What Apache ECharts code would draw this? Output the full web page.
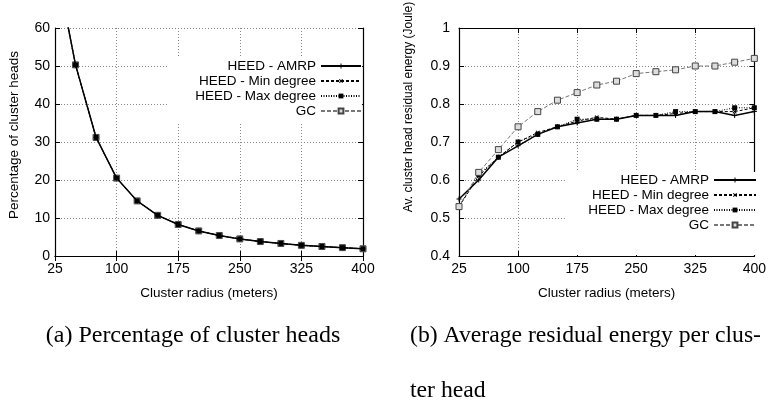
<!DOCTYPE html>
<html>
<head>
<meta charset="utf-8">
<script src="https://cdn.jsdelivr.net/npm/echarts@6/dist/echarts.min.js"></script>
<style>
html,body{margin:0;padding:0;background:#fff;}
#chart{width:769px;height:400px;}
</style>
</head>
<body>
<div id="chart"></div>
<script>
// ---- data ----
const radius = [25, 50, 75, 100, 125, 150, 175, 200, 225, 250, 275, 300, 325, 350, 375, 400];
const seriesNames = ['HEED - AMRP', 'HEED - Min degree', 'HEED - Max degree', 'GC'];
// (a) percentage of cluster heads (all four protocols coincide)
const pctAmrp = [78, 50.3, 31.2, 20.5, 14.5, 10.7, 8.3, 6.6, 5.4, 4.5, 3.8, 3.3, 2.8, 2.5, 2.2, 1.9];
const pctMin  = [78, 50.3, 31.2, 20.5, 14.5, 10.7, 8.3, 6.6, 5.4, 4.5, 3.8, 3.3, 2.8, 2.5, 2.2, 1.9];
const pctMax  = [78, 50.3, 31.2, 20.5, 14.5, 10.7, 8.3, 6.6, 5.4, 4.5, 3.8, 3.3, 2.8, 2.5, 2.2, 1.9];
const pctGc   = [78, 50.3, 31.2, 20.5, 14.5, 10.7, 8.3, 6.6, 5.4, 4.5, 3.8, 3.3, 2.8, 2.5, 2.2, 1.9];
// (b) average cluster head residual energy (Joule)
const energyAmrp = [0.55, 0.60, 0.66, 0.69, 0.72, 0.74, 0.75, 0.76, 0.76, 0.77, 0.77, 0.77, 0.78, 0.78, 0.77, 0.78];
const energyMin  = [0.53, 0.61, 0.66, 0.70, 0.725, 0.74, 0.755, 0.765, 0.76, 0.77, 0.77, 0.775, 0.78, 0.78, 0.78, 0.79];
const energyMax  = [0.53, 0.615, 0.66, 0.70, 0.72, 0.74, 0.76, 0.76, 0.76, 0.77, 0.77, 0.78, 0.78, 0.78, 0.79, 0.79];
const energyGc   = [0.53, 0.62, 0.68, 0.74, 0.78, 0.81, 0.83, 0.85, 0.86, 0.88, 0.885, 0.89, 0.90, 0.90, 0.91, 0.92];
// axis ticks
const xTicks = {min: 25, max: 400, step: 75};
const yTicksA = {min: 0, max: 60, step: 10};
const yTicksB = {min: 0.4, max: 1, step: 0.1};
// texts
const xTitle = 'Cluster radius (meters)';
const yTitleA = 'Percentage of cluster heads';
const yTitleB = 'Av. cluster head residual energy (Joule)';
const captionA = '(a) Percentage of cluster heads';
const captionB1 = '(b) Average residual energy per clus-';
const captionB2 = 'ter head';

// ---- styles ----
const SANS = 'Liberation Sans, Arial, Helvetica, sans-serif';
const SERIF = 'Liberation Serif, Times New Roman, serif';
const plusPath = 'path://M4,0H6V4H10V6H6V10H4V6H0V4H4Z';
const styles = [
  {color: '#000', width: 1.5, type: 'solid', symbol: plusPath, size: 5, rotate: 0, item: {color: '#000'}},
  {color: '#000', width: 1, type: [3, 2], symbol: plusPath, size: 5, rotate: 45, item: {color: '#000'}},
  {color: '#000', width: 1, type: [1, 1.5], symbol: 'rect', size: 5, rotate: 0, item: {color: '#000'}},
  {color: '#777', width: 1, type: [4, 2], symbol: 'rect', size: 6, rotate: 0, item: {color: '#ddd', borderColor: '#444', borderWidth: 1}}
];
// draw order in (a): GC underneath so the black squares show
const zOrderA = [3, 3, 4, 2];
const zOrderB = [3, 3, 3, 3];

const dataA = [pctAmrp, pctMin, pctMax, pctGc];
const dataB = [energyAmrp, energyMin, energyMax, energyGc];

function mkSeries(vals, i, xi, yi, z) {
  const s = styles[i];
  return {
    type: 'line', name: seriesNames[i], xAxisIndex: xi, yAxisIndex: yi, z: z,
    data: radius.map((r, k) => [r, vals[k]]),
    symbol: s.symbol, symbolSize: s.size, symbolRotate: s.rotate, showSymbol: true,
    lineStyle: {color: s.color, width: s.width, type: s.type},
    itemStyle: s.item, animation: false, clip: true
  };
}

const gridLine = {show: true, lineStyle: {color: '#888', width: 1, type: [1, 2]}};
const labelStyle = {color: '#000', fontSize: 14, fontFamily: SANS};

function mainX(gi) {
  return {type: 'value', gridIndex: gi, min: xTicks.min, max: xTicks.max, interval: xTicks.step,
    name: xTitle, nameLocation: 'middle', nameGap: 30,
    nameTextStyle: {color: '#000', fontSize: 13.5, fontFamily: SANS},
    axisLine: {show: true, lineStyle: {color: '#000', width: 1.2}},
    axisTick: {show: true, inside: true, length: 5, lineStyle: {color: '#000'}},
    axisLabel: Object.assign({margin: 6}, labelStyle),
    splitLine: gridLine};
}
function mirrorX(gi) {
  return {type: 'value', gridIndex: gi, position: 'top', min: xTicks.min, max: xTicks.max, interval: xTicks.step,
    axisLine: {show: true, lineStyle: {color: '#000', width: 1.2}},
    axisTick: {show: true, inside: true, length: 5, lineStyle: {color: '#000'}},
    axisLabel: {show: false}, splitLine: {show: false}};
}
function mainY(gi, t, margin) {
  return {type: 'value', gridIndex: gi, min: t.min, max: t.max, interval: t.step,
    axisLine: {show: true, lineStyle: {color: '#000', width: 1.2}},
    axisTick: {show: true, inside: true, length: 5, lineStyle: {color: '#000'}},
    axisLabel: Object.assign({margin: margin}, labelStyle),
    splitLine: gridLine};
}
function mirrorY(gi, t) {
  return {type: 'value', gridIndex: gi, position: 'right', min: t.min, max: t.max, interval: t.step,
    axisLine: {show: true, lineStyle: {color: '#000', width: 1.2}},
    axisTick: {show: true, inside: true, length: 5, lineStyle: {color: '#000'}},
    axisLabel: {show: false}, splitLine: {show: false}};
}

function mkLegend(right, top, pad, itemWidth) {
  return {orient: 'vertical', right: right, top: top, padding: pad,
    itemWidth: itemWidth, itemHeight: 6, itemGap: 1, align: 'right',
    backgroundColor: '#fff', selectedMode: false, data: seriesNames,
    textStyle: {color: '#000', fontSize: 13.5, fontFamily: SANS, lineHeight: 14, width: 130}};
}

const series = [];
dataA.forEach((v, i) => series.push(mkSeries(v, i, 0, 0, zOrderA[i])));
dataB.forEach((v, i) => series.push(mkSeries(v, i, 1, 1, zOrderB[i])));

const option = {
  backgroundColor: '#fff',
  animation: false,
  grid: [
    {left: 55, top: 28, width: 308, height: 228, show: false},
    {left: 459, top: 28, width: 298, height: 228, show: false}
  ],
  xAxis: [mainX(0), mainX(1), mirrorX(0), mirrorX(1)],
  yAxis: [mainY(0, yTicksA, 5), mainY(1, yTicksB, 9), mirrorY(0, yTicksA), mirrorY(1, yTicksB)],
  legend: [
    mkLegend(407, 56, [3, 0, 6, 17], 40),
    mkLegend(12, 172, [1, 0, 23, 13], 42)
  ],
  series: series,
  graphic: [
    {type: 'text', x: 14, y: 135, rotation: Math.PI / 2,
      style: {text: yTitleA, fill: '#000', fontSize: 13.5, fontFamily: SANS, align: 'center', verticalAlign: 'middle'}},
    {type: 'text', x: 409, y: 107, rotation: Math.PI / 2,
      style: {text: yTitleB, fill: '#000', fontSize: 12, fontFamily: SANS, align: 'center', verticalAlign: 'middle'}},
    {type: 'text', x: 193, y: 336,
      style: {text: captionA, fill: '#000', fontSize: 24, fontFamily: SERIF, align: 'center', verticalAlign: 'middle'}},
    {type: 'text', x: 410, y: 336,
      style: {text: captionB1, fill: '#000', fontSize: 23.7, fontFamily: SERIF, align: 'left', verticalAlign: 'middle'}},
    {type: 'text', x: 410, y: 391,
      style: {text: captionB2, fill: '#000', fontSize: 23.7, fontFamily: SERIF, align: 'left', verticalAlign: 'middle'}}
  ]
};

const chart = echarts.init(document.getElementById('chart'), null, {renderer: 'canvas'});
chart.setOption(option);
</script>
</body>
</html>
